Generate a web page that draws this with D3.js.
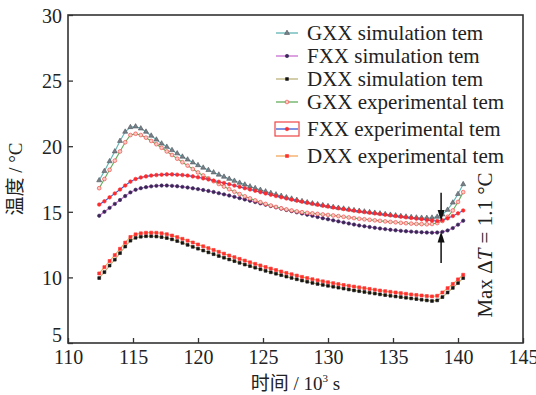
<!DOCTYPE html>
<html><head><meta charset="utf-8">
<script src="https://cdn.jsdelivr.net/npm/d3@7"></script>
<style>
html,body{margin:0;padding:0;background:#fff;}
svg{display:block;}
</style></head>
<body>
<svg id="chart" width="536" height="395"></svg>
<script>
const time = [112.4,112.8,113.2,113.6,114.0,114.4,114.8,115.2,115.6,116.0,116.4,116.8,117.2,117.6,118.0,118.4,118.8,119.2,119.6,120.0,120.4,120.8,121.2,121.6,122.0,122.4,122.8,123.2,123.6,124.0,124.4,124.8,125.2,125.6,126.0,126.4,126.8,127.2,127.6,128.0,128.4,128.8,129.2,129.6,130.0,130.4,130.8,131.2,131.6,132.0,132.4,132.8,133.2,133.6,134.0,134.4,134.8,135.2,135.6,136.0,136.4,136.8,137.2,137.6,138.0,138.4,138.8,139.2,139.6,140.0,140.4];

const gxxSim = [17.4,18.1,18.85,19.6,20.4,21.1,21.45,21.5,21.35,21.1,20.8,20.5,20.2,19.95,19.7,19.45,19.2,18.98,18.76,18.55,18.36,18.18,18.0,17.83,17.67,17.51,17.36,17.21,17.07,16.93,16.8,16.67,16.55,16.43,16.32,16.21,16.1,16.0,15.9,15.81,15.72,15.64,15.57,15.5,15.43,15.36,15.3,15.24,15.18,15.12,15.07,15.02,14.97,14.92,14.87,14.82,14.77,14.72,14.67,14.63,14.59,14.56,14.54,14.53,14.55,14.62,14.8,15.15,15.7,16.35,17.1];
const fxxSim = [14.7,15.0,15.3,15.6,15.9,16.2,16.48,16.68,16.8,16.88,16.94,16.98,17.0,17.0,16.98,16.95,16.9,16.85,16.79,16.73,16.66,16.59,16.51,16.42,16.33,16.24,16.14,16.04,15.94,15.84,15.74,15.64,15.54,15.44,15.34,15.24,15.14,15.05,14.96,14.87,14.78,14.69,14.6,14.51,14.43,14.35,14.27,14.19,14.11,14.03,13.96,13.9,13.84,13.78,13.73,13.68,13.63,13.59,13.55,13.52,13.49,13.46,13.44,13.42,13.41,13.42,13.47,13.58,13.76,14.02,14.32];
const dxxSim = [9.95,10.4,10.9,11.35,11.85,12.35,12.8,13.02,13.1,13.14,13.14,13.12,13.07,13.0,12.9,12.77,12.63,12.48,12.33,12.19,12.05,11.91,11.77,11.63,11.5,11.37,11.24,11.11,10.98,10.86,10.74,10.62,10.5,10.39,10.28,10.17,10.06,9.96,9.86,9.76,9.67,9.58,9.5,9.43,9.36,9.29,9.22,9.15,9.08,9.01,8.95,8.89,8.83,8.77,8.71,8.65,8.6,8.55,8.5,8.45,8.4,8.35,8.3,8.25,8.2,8.25,8.5,8.85,9.2,9.57,9.95];
const gxxExp = [16.8,17.5,18.2,18.9,19.6,20.3,20.85,20.95,20.85,20.65,20.4,20.15,19.88,19.6,19.33,19.05,18.78,18.52,18.26,18.0,17.77,17.55,17.33,17.12,16.92,16.72,16.53,16.35,16.18,16.02,15.87,15.73,15.6,15.48,15.37,15.27,15.18,15.1,15.03,14.97,14.92,14.88,14.84,14.8,14.76,14.72,14.67,14.62,14.57,14.52,14.47,14.43,14.39,14.35,14.31,14.27,14.23,14.2,14.16,14.13,14.1,14.08,14.06,14.05,14.07,14.14,14.3,14.62,15.1,15.75,16.5];
const fxxExp = [15.55,15.8,16.1,16.4,16.7,17.0,17.3,17.5,17.62,17.7,17.76,17.8,17.83,17.85,17.85,17.83,17.8,17.76,17.7,17.63,17.55,17.47,17.38,17.29,17.2,17.1,17.0,16.9,16.8,16.7,16.6,16.5,16.4,16.3,16.2,16.11,16.02,15.93,15.85,15.77,15.69,15.61,15.54,15.47,15.4,15.33,15.27,15.21,15.15,15.09,15.03,14.98,14.93,14.88,14.83,14.78,14.73,14.68,14.63,14.58,14.53,14.48,14.43,14.38,14.33,14.3,14.35,14.5,14.68,14.88,15.1];
const dxxExp = [10.3,10.78,11.25,11.7,12.18,12.65,13.08,13.28,13.36,13.4,13.41,13.4,13.36,13.29,13.19,13.07,12.94,12.8,12.66,12.51,12.37,12.23,12.09,11.95,11.81,11.67,11.54,11.41,11.28,11.15,11.03,10.91,10.79,10.67,10.56,10.45,10.34,10.24,10.14,10.04,9.95,9.86,9.78,9.7,9.63,9.56,9.49,9.42,9.36,9.3,9.24,9.18,9.12,9.06,9.0,8.95,8.9,8.85,8.8,8.75,8.7,8.66,8.62,8.58,8.55,8.6,8.85,9.18,9.5,9.85,10.2];

const seriesNames = ["GXX simulation tem","FXX simulation tem","DXX simulation tem","GXX experimental tem","FXX experimental tem","DXX experimental tem"];
const xTicks = [110,115,120,125,130,135,140,145];
const yTicks = [5,10,15,20,25,30];
const arrowTime = 138.7;
const arrowDown = [16.45, 14.3];
const arrowUp = [11.1, 13.5];

const seriesValues = [gxxSim, fxxSim, dxxSim, gxxExp, fxxExp, dxxExp];
const styles = [
  {line:"#62b4b4", sym:d3.symbolTriangle, size:11, fill:"#7a8086", stroke:"#4d5560"},
  {line:"#c86fd0", sym:d3.symbolCircle, size:9, fill:"#3a2658", stroke:"#3a2658"},
  {line:"#bdb27a", sym:d3.symbolSquare, size:8, fill:"#141414", stroke:"#141414"},
  {line:"#63ad5c", sym:d3.symbolCircle, size:11, fill:"#ffc8c0", stroke:"#f03a3a"},
  {line:"#3a58d0", sym:d3.symbolCircle, size:10, fill:"#ff2a2a", stroke:"#ff2a2a"},
  {line:"#f5a85a", sym:d3.symbolSquare, size:9, fill:"#ff3030", stroke:"#ff3030"}
];

const serif = "'Liberation Serif','Times New Roman',serif";
const cjk = "'Noto Sans CJK SC','Noto Sans',sans-serif";

const svg = d3.select("#chart");
const m = {l:68, t:15, r:13, b:52};
const W = 536 - m.l - m.r, H = 395 - m.t - m.b;
const x = d3.scaleLinear().domain([110,145]).range([m.l, m.l+W]);
const y = d3.scaleLinear().domain([5,30]).range([m.t+H, m.t]);

// axes
const xAxis = d3.axisBottom(x).tickValues(xTicks).tickSize(-5).tickPadding(7).tickFormat(d3.format("d"));
const yAxis = d3.axisLeft(y).tickValues(yTicks).tickSize(-5).tickPadding(6).tickFormat(d3.format("d"));
const gx = svg.append("g").attr("transform",`translate(0,${m.t+H})`).call(xAxis);
const gy = svg.append("g").attr("transform",`translate(${m.l},0)`).call(yAxis);
[gx,gy].forEach(g=>{
  g.attr("font-family",serif).attr("font-size",20);
  g.select(".domain").remove();
  g.selectAll(".tick line").attr("stroke","#333").attr("stroke-width",1.3);
  g.selectAll(".tick text").attr("font-family",serif).attr("font-size",20).attr("fill","#222");
});
gx.selectAll(".tick text").attr("dy","0.71em");
gy.selectAll(".tick text").attr("dy","0.36em");
gy.selectAll(".tick").filter(d=>d===5).select("text").attr("dy","-0.08em");

// frame
svg.append("rect").attr("x",m.l).attr("y",m.t).attr("width",W).attr("height",H)
  .attr("fill","none").attr("stroke","#333").attr("stroke-width",1.6);

// series
const line = d3.line().x((d,i)=>x(time[i])).y(d=>y(d));
seriesValues.forEach((vals,k)=>{
  const st = styles[k];
  const g = svg.append("g");
  g.append("path").datum(vals).attr("d",line).attr("fill","none")
    .attr("stroke",st.line).attr("stroke-width",1.1);
  g.selectAll("path.mk").data(vals).join("path").attr("class","mk")
    .attr("d",d3.symbol().type(st.sym).size(st.size))
    .attr("transform",(d,i)=>`translate(${x(time[i])},${y(d)})`)
    .attr("fill",st.fill).attr("stroke",st.stroke).attr("stroke-width",0.6);
});

// arrows
function arrow(v0,v1){
  const xp = x(arrowTime), y0 = y(v0), y1 = y(v1);
  const dir = Math.sign(y1-y0);
  svg.append("line").attr("x1",xp).attr("x2",xp).attr("y1",y0).attr("y2",y1-dir*8)
    .attr("stroke","#111").attr("stroke-width",1.5);
  svg.append("path").attr("d",`M${xp},${y1} L${xp-3.5},${y1-dir*11} L${xp+3.5},${y1-dir*11} Z`).attr("fill","#111");
}
arrow(arrowDown[0],arrowDown[1]);
arrow(arrowUp[0],arrowUp[1]);

// rotated annotation
const ann = svg.append("text").attr("transform",`translate(492,245) rotate(-90)`)
  .attr("text-anchor","middle").attr("font-family",serif).attr("font-size",21).attr("fill","#222");
ann.append("tspan").text("Max Δ");
ann.append("tspan").attr("font-style","italic").text("T");
ann.append("tspan").text(" = 1.1 °C");

// legend
const rowY = [33,56,79,102,129,156];
const lg = svg.append("g");
seriesNames.forEach((name,k)=>{
  const st = styles[k];
  const ry = rowY[k];
  if(k===4){
    lg.append("rect").attr("x",275).attr("y",ry-7).attr("width",24).attr("height",14)
      .attr("fill","none").attr("stroke","#ee4444").attr("stroke-width",1.2);
  }
  lg.append("line").attr("x1",276).attr("x2",298).attr("y1",ry).attr("y2",ry)
    .attr("stroke",st.line).attr("stroke-width",1.3);
  lg.append("path").attr("d",d3.symbol().type(st.sym).size(st.size)())
    .attr("transform",`translate(287,${ry})`).attr("fill",st.fill).attr("stroke",st.stroke).attr("stroke-width",0.6);
  lg.append("text").attr("x",307).attr("y",ry).attr("dy","0.34em")
    .attr("font-family",serif).attr("font-size",21).attr("fill","#222").text(name);
});

// axis titles
const xt = svg.append("text").attr("x",m.l+W/2).attr("y",390).attr("text-anchor","middle")
  .attr("font-size",19).attr("fill","#222");
xt.append("tspan").attr("font-family",cjk).text("时间");
xt.append("tspan").attr("font-family",serif).text(" / 10");
xt.append("tspan").attr("font-family",serif).attr("font-size",11).attr("dy",-8).text("3");
xt.append("tspan").attr("font-family",serif).attr("dy",8).text(" s");

const yt = svg.append("text").attr("transform",`translate(22,${m.t+H/2}) rotate(-90)`)
  .attr("text-anchor","middle").attr("font-size",19).attr("fill","#222");
yt.append("tspan").attr("font-family",cjk).text("温度");
yt.append("tspan").attr("font-family",serif).text(" / °C");
</script>
</body></html>
